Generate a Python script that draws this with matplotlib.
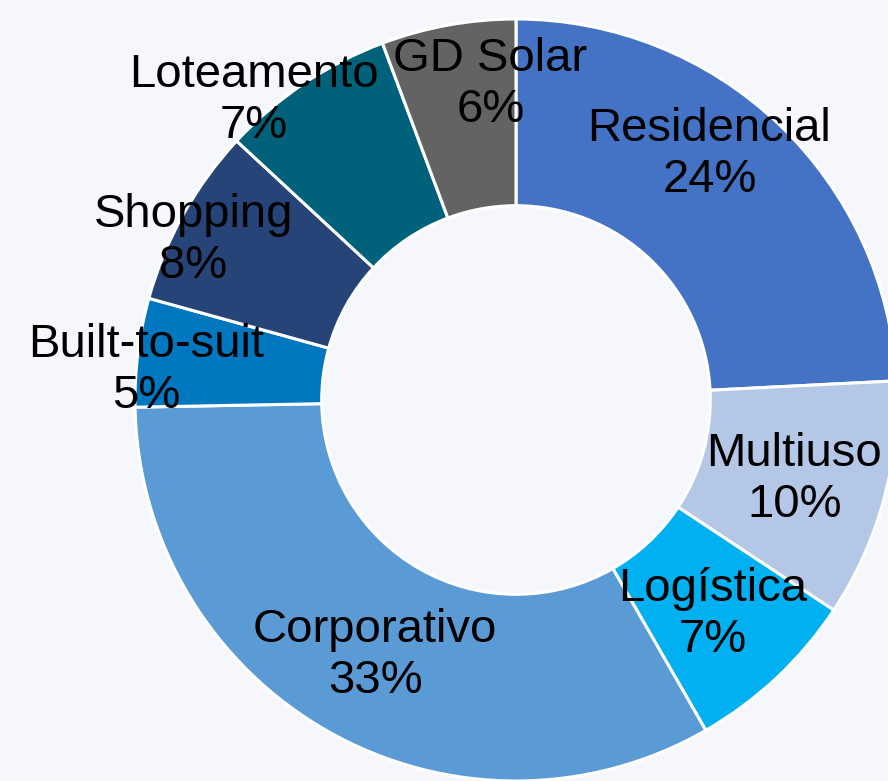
import numpy as np
import matplotlib
matplotlib.use("Agg")
import matplotlib.pyplot as plt

# Portfolio share by segment (%)
labels = ["Residencial", "Multiuso", "Logística", "Corporativo",
          "Built-to-suit", "Shopping", "Loteamento", "GD Solar"]
shares = [24.2, 10.1, 7.4, 33.0, 4.6, 7.6, 7.4, 5.7]
colors = ["#4472C4", "#B4C7E7", "#00B0F0", "#5B9BD5",
          "#0077BE", "#264478", "#00627A", "#636363"]

# label placement (radius in units of outer radius, angle nudge in degrees)
label_r = [0.82, 0.76, 0.765, 0.765, 0.975, 0.945, 1.045, 0.83]
label_dang = [5.3, -0.7, -0.7, 0.6, 2.6, 2.8, 7.4, -5.6]

bg = "#F5F7FC"
plt.rcParams["font.family"] = ["Liberation Sans", "DejaVu Sans"]

fig = plt.figure(figsize=(8.88, 7.81), dpi=100, facecolor=bg)
ax = fig.add_axes([135 / 888, 0 / 781, 762 / 888, 762 / 781])
ax.set_facecolor(bg)

wedges, _ = ax.pie(shares, colors=colors, startangle=90, counterclock=False,
                   radius=1.0,
                   wedgeprops=dict(width=0.49, edgecolor="white", linewidth=2.2))

for w, lab, val, r, da in zip(wedges, labels, shares, label_r, label_dang):
    mid = np.deg2rad((w.theta1 + w.theta2) / 2 + da)
    ax.text(r * np.cos(mid), r * np.sin(mid), f"{lab}\n{val:.0f}%",
            ha="center", va="center", fontsize=34, color="black",
            linespacing=1.2)

ax.set_xlim(-1, 1)
ax.set_ylim(-1, 1)
ax.set_aspect("equal")
ax.axis("off")

fig.savefig("out.png", dpi=100, facecolor=bg)
